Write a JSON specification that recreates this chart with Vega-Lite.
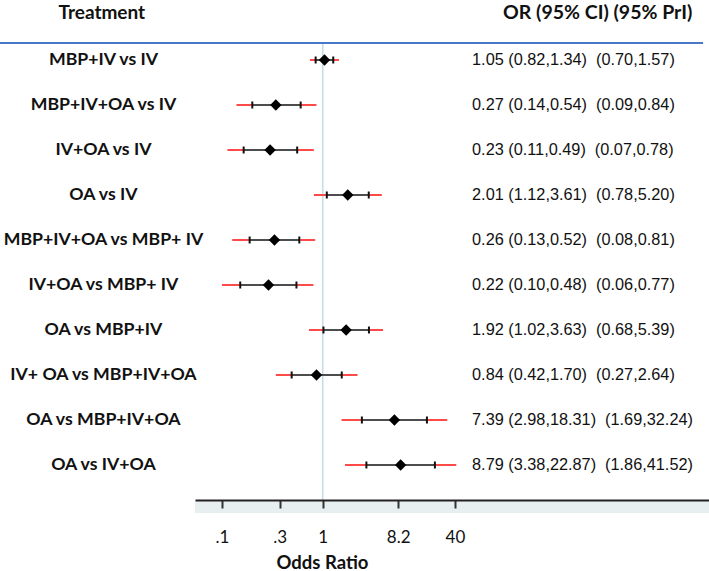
{
  "$schema": "https://vega.github.io/schema/vega-lite/v6.json",
  "autosize": "none",
  "width": 514,
  "height": 457,
  "padding": {"left": 195, "top": 43, "right": 0, "bottom": 71},
  "background": "white",
  "config": {"view": {"stroke": null}},
  "datasets": {
    "rows": [
      {"row": 1, "treatment": "MBP+IV vs IV", "or": 1.05, "ci_lo": 0.82, "ci_hi": 1.34, "pri_lo": 0.70, "pri_hi": 1.57, "txt": "1.05 (0.82,1.34)\u00a0 (0.70,1.57)"},
      {"row": 2, "treatment": "MBP+IV+OA vs IV", "or": 0.27, "ci_lo": 0.14, "ci_hi": 0.54, "pri_lo": 0.09, "pri_hi": 0.84, "txt": "0.27 (0.14,0.54)\u00a0 (0.09,0.84)"},
      {"row": 3, "treatment": "IV+OA vs IV", "or": 0.23, "ci_lo": 0.11, "ci_hi": 0.49, "pri_lo": 0.07, "pri_hi": 0.78, "txt": "0.23 (0.11,0.49)\u00a0 (0.07,0.78)"},
      {"row": 4, "treatment": "OA vs IV", "or": 2.01, "ci_lo": 1.12, "ci_hi": 3.61, "pri_lo": 0.78, "pri_hi": 5.20, "txt": "2.01 (1.12,3.61)\u00a0 (0.78,5.20)"},
      {"row": 5, "treatment": "MBP+IV+OA vs MBP+ IV", "or": 0.26, "ci_lo": 0.13, "ci_hi": 0.52, "pri_lo": 0.08, "pri_hi": 0.81, "txt": "0.26 (0.13,0.52)\u00a0 (0.08,0.81)"},
      {"row": 6, "treatment": "IV+OA vs MBP+ IV", "or": 0.22, "ci_lo": 0.10, "ci_hi": 0.48, "pri_lo": 0.06, "pri_hi": 0.77, "txt": "0.22 (0.10,0.48)\u00a0 (0.06,0.77)"},
      {"row": 7, "treatment": "OA vs MBP+IV", "or": 1.92, "ci_lo": 1.02, "ci_hi": 3.63, "pri_lo": 0.68, "pri_hi": 5.39, "txt": "1.92 (1.02,3.63)\u00a0 (0.68,5.39)"},
      {"row": 8, "treatment": "IV+ OA vs MBP+IV+OA", "or": 0.84, "ci_lo": 0.42, "ci_hi": 1.70, "pri_lo": 0.27, "pri_hi": 2.64, "txt": "0.84 (0.42,1.70)\u00a0 (0.27,2.64)"},
      {"row": 9, "treatment": "OA vs MBP+IV+OA", "or": 7.39, "ci_lo": 2.98, "ci_hi": 18.31, "pri_lo": 1.69, "pri_hi": 32.24, "txt": "7.39 (2.98,18.31)\u00a0 (1.69,32.24)"},
      {"row": 10, "treatment": "OA vs IV+OA", "or": 8.79, "ci_lo": 3.38, "ci_hi": 22.87, "pri_lo": 1.86, "pri_hi": 41.52, "txt": "8.79 (3.38,22.87)\u00a0 (1.86,41.52)"}
    ],
    "one": [{"h1": "Treatment", "h2": "OR (95% CI) (95% PrI)"}]
  },
  "data": {"name": "rows"},
  "layer": [
    {
      "data": {"name": "one"},
      "mark": {"type": "rect", "color": "#e8eff1"},
      "encoding": {
        "x": {"datum": 0.0283, "type": "quantitative", "scale": {"type": "log", "domain": [0.0283, 48000], "nice": false}, "axis": {"values": [0.06, 0.3, 1, 8.2, 40], "labelExpr": "datum.value < 0.1 ? '.1' : datum.value < 0.5 ? '.3' : datum.value < 2 ? '1' : datum.value < 10 ? '8.2' : '40'", "title": "Odds Ratio", "titleFont": "Lato", "titleFontSize": 18.5, "titleFontWeight": "bold", "titleColor": "#111", "titleX": 127, "titleY": 62, "titleAlign": "center", "titleBaseline": "middle", "labelFont": "Lato", "labelFontSize": 17, "labelColor": "#111", "labelBaseline": "middle", "labelPadding": 29, "labelFlush": false, "labelOverlap": false, "grid": false, "domainColor": "#222", "domainWidth": 2, "tickColor": "#333", "tickWidth": 2, "tickSize": 8, "zindex": 1}},
        "x2": {"datum": 48000},
        "y": {"datum": 10.7778, "type": "quantitative", "scale": {"domain": [0.6222, 10.7778], "reverse": true, "nice": false, "zero": false}, "axis": null},
        "y2": {"datum": 11.0667}
      }
    },
    {
      "data": {"name": "one"},
      "mark": {"type": "rule", "color": "#c9dde8", "strokeWidth": 1.6},
      "encoding": {"x": {"datum": 1}, "y": {"datum": 0.6222}, "y2": {"datum": 10.7778}}
    },
    {
      "data": {"name": "one"},
      "mark": {"type": "rule", "color": "#4a78c8", "strokeWidth": 2},
      "encoding": {"x": {"datum": 0.0001225}, "x2": {"datum": 40700}, "y": {"datum": 0.6222}}
    },
    {
      "mark": {"type": "rule", "color": "#ff4a4a", "strokeWidth": 2},
      "encoding": {"x": {"field": "pri_lo", "type": "quantitative"}, "x2": {"field": "pri_hi"}, "y": {"field": "row", "type": "quantitative"}}
    },
    {
      "mark": {"type": "rule", "color": "#4d4d4d", "strokeWidth": 2},
      "encoding": {"x": {"field": "ci_lo", "type": "quantitative"}, "x2": {"field": "ci_hi"}, "y": {"field": "row", "type": "quantitative"}}
    },
    {
      "mark": {"type": "tick", "orient": "vertical", "color": "#111", "size": 7, "thickness": 2, "opacity": 1},
      "encoding": {"x": {"field": "ci_lo", "type": "quantitative"}, "y": {"field": "row", "type": "quantitative"}}
    },
    {
      "mark": {"type": "tick", "orient": "vertical", "color": "#111", "size": 7, "thickness": 2, "opacity": 1},
      "encoding": {"x": {"field": "ci_hi", "type": "quantitative"}, "y": {"field": "row", "type": "quantitative"}}
    },
    {
      "mark": {"type": "point", "shape": "diamond", "filled": true, "color": "#000", "size": 130, "opacity": 1},
      "encoding": {"x": {"field": "or", "type": "quantitative"}, "y": {"field": "row", "type": "quantitative"}}
    },
    {
      "mark": {"type": "text", "font": "Lato", "fontSize": 17.7, "fontWeight": "bold", "color": "#111", "align": "center", "baseline": "middle"},
      "encoding": {"x": {"datum": 0.0022}, "y": {"field": "row", "type": "quantitative"}, "text": {"field": "treatment"}}
    },
    {
      "mark": {"type": "text", "font": "Liberation Sans", "fontSize": 16.3, "color": "#111", "align": "left", "baseline": "middle"},
      "encoding": {"x": {"datum": 64.5}, "y": {"field": "row", "type": "quantitative"}, "text": {"field": "txt"}}
    },
    {
      "data": {"name": "one"},
      "mark": {"type": "text", "font": "Lato", "fontSize": 19, "fontWeight": "bold", "color": "#111", "align": "center", "baseline": "middle"},
      "encoding": {"x": {"datum": 0.0021}, "y": {"datum": -0.0444}, "text": {"field": "h1"}}
    },
    {
      "data": {"name": "one"},
      "mark": {"type": "text", "font": "Lato", "fontSize": 19.5, "fontWeight": "bold", "color": "#111", "align": "left", "baseline": "middle"},
      "encoding": {"x": {"datum": 153}, "y": {"datum": -0.0444}, "text": {"field": "h2"}}
    }
  ]
}
